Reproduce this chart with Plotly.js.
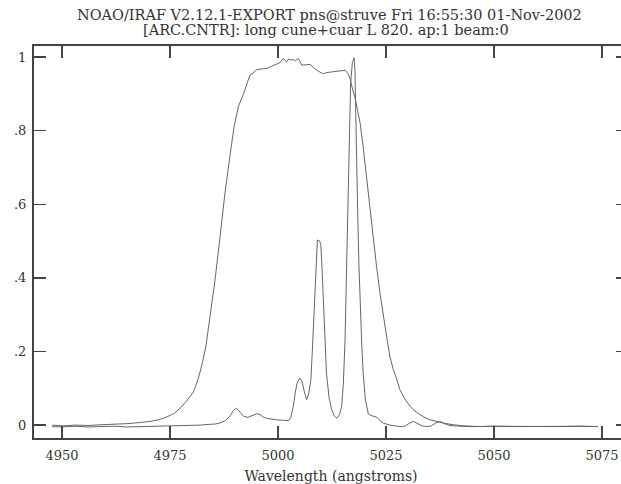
<!DOCTYPE html>
<html>
<head>
<meta charset="utf-8">
<script src="https://cdn.plot.ly/plotly-3.0.1.min.js"></script>
<style>
html,body{margin:0;padding:0;overflow:hidden;background:#fff;width:621px;height:484px;}
#chart{width:640px;height:484px;}
</style>
</head>
<body>
<div id="chart"></div>
<script>
// Filter transmission curve (broad)
const filterWave = [4947.7,4950,4953,4956,4959,4962,4965,4968,4970.4,4972.5,4974.2,4976,4977.5,4979,4980.4,4981.5,4982.5,4983.3,4984.3,4985.4,4986.6,4987.7,4988.9,4989.8,4990.8,4992.0,4993.0,4993.5,4994.2,4995.1,4996.5,4997.4,4998.5,4999.7,5000.5,5001.2,5001.9,5002.5,5003.0,5003.5,5004.0,5004.7,5005.5,5006.5,5007.4,5008.2,5009.0,5010.0,5010.5,5011.3,5012.5,5013.6,5014.6,5015.5,5016.2,5016.7,5017.3,5017.8,5018.4,5019.0,5019.7,5020.5,5021.3,5022.0,5022.8,5023.6,5024.4,5025.2,5025.9,5026.7,5027.5,5028.2,5029.4,5030.6,5032.0,5033.6,5035.0,5036.7,5038.5,5040.5,5043,5046.8,5050,5055,5060,5065,5070,5074];
const filterVal = [0.000,-0.002,0.000,-0.001,0.001,0.002,0.004,0.007,0.010,0.015,0.022,0.032,0.048,0.068,0.090,0.125,0.170,0.215,0.295,0.394,0.515,0.630,0.735,0.810,0.865,0.900,0.935,0.951,0.956,0.966,0.968,0.969,0.975,0.980,0.985,0.996,0.987,0.995,0.992,0.993,0.990,0.996,0.978,0.979,0.980,0.972,0.964,0.957,0.955,0.958,0.960,0.962,0.963,0.964,0.955,0.940,0.910,0.890,0.855,0.820,0.756,0.670,0.593,0.510,0.430,0.358,0.290,0.235,0.185,0.150,0.123,0.096,0.070,0.050,0.035,0.023,0.015,0.010,0.005,0.001,-0.002,-0.004,-0.003,-0.004,-0.003,-0.004,-0.003,-0.004];

// Arc lamp spectrum (emission lines)
const arcWave = [4947.7,4950,4953,4956,4959,4962,4965,4968,4971,4974,4977,4980,4982,4984,4985.5,4986.6,4987.8,4988.9,4989.7,4990.4,4991.2,4992.0,4993.0,4994.0,4995.1,4995.9,4996.6,4997.5,4998.5,5000.0,5001.5,5002.4,5002.9,5003.5,5004.0,5004.4,5005.0,5005.5,5006.1,5006.6,5007.1,5007.6,5008.0,5008.4,5008.8,5009.1,5009.6,5009.9,5010.2,5010.5,5010.9,5011.2,5011.8,5012.4,5013.0,5013.6,5014.2,5014.7,5015.1,5015.5,5015.9,5016.3,5016.8,5017.2,5017.6,5017.8,5018.0,5018.4,5018.7,5019.0,5019.4,5019.7,5020.2,5020.9,5021.8,5022.8,5023.6,5024.4,5025.9,5027.5,5028.5,5029.5,5030.5,5031.4,5032.3,5033.3,5034.4,5035.5,5036.5,5037.5,5038.5,5039.8,5042,5045,5050,5055,5060,5065,5070,5074];
const arcVal = [-0.004,-0.005,-0.003,-0.005,-0.004,-0.003,-0.005,-0.004,-0.004,-0.004,-0.003,-0.002,0.000,0.002,0.003,0.006,0.012,0.025,0.040,0.046,0.036,0.024,0.021,0.026,0.031,0.028,0.022,0.018,0.016,0.014,0.013,0.012,0.020,0.050,0.090,0.114,0.128,0.120,0.090,0.069,0.085,0.125,0.220,0.340,0.460,0.503,0.500,0.490,0.420,0.320,0.210,0.141,0.075,0.042,0.025,0.019,0.028,0.050,0.110,0.230,0.450,0.684,0.930,0.985,0.998,0.960,0.865,0.593,0.440,0.320,0.210,0.141,0.070,0.030,0.025,0.022,0.012,0.005,0.000,-0.003,-0.004,-0.002,0.006,0.010,0.005,-0.002,-0.004,-0.002,0.006,0.010,0.004,-0.001,-0.003,-0.004,-0.003,-0.004,-0.003,-0.004,-0.003,-0.004];

const xTickVals = [4950,4975,5000,5025,5050,5075];
const xTickText = ["4950","4975","5000","5025","5050","5075"];
const yTickVals = [0,0.2,0.4,0.6,0.8,1];
const yTickText = ["0",".2",".4",".6",".8","1"];

const titleLine1 = "NOAO/IRAF V2.12.1-EXPORT pns@struve Fri 16:55:30 01-Nov-2002";
const titleLine2 = "[ARC.CNTR]: long cune+cuar L 820. ap:1 beam:0";
const xTitle = "Wavelength (angstroms)";

const fontFam = "DejaVu Serif";
const lineStyle = {color:'#666666', width:1};

const traces = [
  {x: filterWave, y: filterVal, type:'scatter', mode:'lines', line: lineStyle, hoverinfo:'skip'},
  {x: arcWave, y: arcVal, type:'scatter', mode:'lines', line: lineStyle, hoverinfo:'skip'}
];

const axisCommon = {
  showline:true, linecolor:'#444', linewidth:2, mirror:'ticks',
  ticks:'inside', ticklen:12, tickwidth:1.5, tickcolor:'#444',
  showgrid:false, zeroline:false,
  tickfont:{family:fontFam, size:13, color:'#333'}
};

const titleFont = {family:fontFam, size:14.5, color:'#333'};

const layout = {
  width:640, height:484,
  margin:{l:34, r:12, t:46, b:46},
  paper_bgcolor:'#fff', plot_bgcolor:'#fff',
  showlegend:false,
  font:{family:fontFam, color:'#333'},
  annotations:[
    {text:titleLine1, xref:'paper', yref:'paper', x:(329-34)/594, y:(438-15)/392,
     xanchor:'center', yanchor:'middle', showarrow:false, font:titleFont},
    {text:titleLine2, xref:'paper', yref:'paper', x:(326-34)/594, y:(438-30)/392,
     xanchor:'center', yanchor:'middle', showarrow:false, font:titleFont}
  ],
  xaxis: Object.assign({}, axisCommon, {
    range:[4943.5, 5081.0],
    tickmode:'array', tickvals:xTickVals, ticktext:xTickText,
    ticklabelstandoff:4,
    title:{text:xTitle, font:{family:fontFam, size:14, color:'#333'}, standoff:12}
  }),
  yaxis: Object.assign({}, axisCommon, {
    range:[-0.035, 1.030],
    tickmode:'array', tickvals:yTickVals, ticktext:yTickText,
    ticklabelstandoff:3
  })
};

Plotly.newPlot('chart', traces, layout, {staticPlot:true, displayModeBar:false});
</script>
</body>
</html>
